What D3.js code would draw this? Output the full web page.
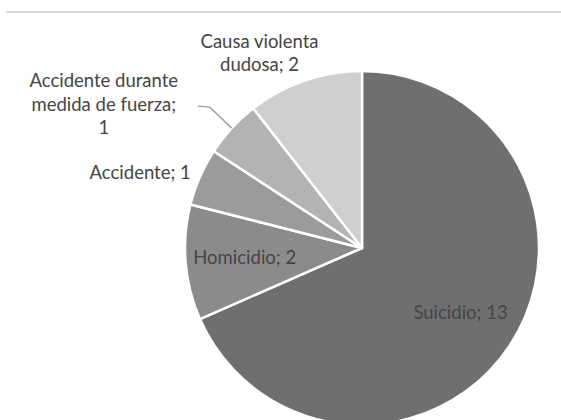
<!DOCTYPE html>
<html><head><meta charset="utf-8">
<script src="https://cdn.jsdelivr.net/npm/d3@7"></script>
<style>html,body{margin:0;padding:0;background:#fff;}svg{display:block;}</style>
</head><body>
<script>
const categories = ["Suicidio", "Homicidio", "Accidente", "Accidente durante medida de fuerza", "Causa violenta dudosa"];
const values = [13, 2, 1, 1, 2];
const colors = ["#6f6f6f", "#8b8b8b", "#9b9b9b", "#b3b3b3", "#cfcfcf"];
const labelLines = [["Suicidio; 13"], ["Homicidio; 2"], ["Accidente; 1"], ["Accidente durante", "medida de fuerza;", "1"], ["Causa violenta", "dudosa; 2"]];

const W = 561, H = 420;
const cx = 362, cy = 248, R = 177;
const svg = d3.select("body").append("svg").attr("width", W).attr("height", H);

svg.append("line").attr("x1", 6).attr("x2", W).attr("y1", 12).attr("y2", 12)
  .attr("stroke", "#d9d9d9").attr("stroke-width", 2);

const data = categories.map((c, i) => ({cat: c, value: values[i], color: colors[i], lines: labelLines[i]}));
const pie = d3.pie().sort(null).value(d => d.value);
const arcs = pie(data);
const arc = d3.arc().innerRadius(0).outerRadius(R);
const g = svg.append("g").attr("transform", `translate(${cx},${cy})`);

g.selectAll("path").data(arcs).join("path")
  .attr("d", arc).attr("fill", d => d.data.color)
  .attr("stroke", "#fff").attr("stroke-width", 2.5).attr("stroke-linejoin", "round");

const font = "Lato, 'Open Sans', sans-serif";
const fs = 18.5, lh = 23.5;
function pt(a, r) { return [Math.sin(a) * r, -Math.cos(a) * r]; }

arcs.forEach((d, i) => {
  const mid = (d.startAngle + d.endAngle) / 2;
  const n = d.data.lines.length;
  let x, y, anchor;
  if (i <= 1) {
    [x, y] = pt(mid, R * 0.665);
    anchor = "middle";
  } else if (i === 2) {
    [x, y] = pt(mid, R + 10);
    anchor = "end";
  } else if (i === 3) {
    const e = pt(mid, R);
    const b = [e[0] - 22, e[1] - 21];
    const f = [b[0] - 12, b[1] - 1];
    g.append("polyline").attr("points", [e, b, f].map(p => p.join(",")).join(" "))
      .attr("fill", "none").attr("stroke", "#a0a0a0").attr("stroke-width", 1.4);
    x = f[0] - 18; y = f[1] - 2;
    anchor = "end";
  } else {
    const e = pt(mid, R);
    x = e[0] - 45; y = e[1] - 4 - (n - 0.5) * lh;
    anchor = "middle";
  }
  const t = g.append("text").attr("font-family", font).attr("font-size", fs)
    .attr("fill", "#454545").attr("text-anchor", anchor);
  let y0 = (i === 4) ? y : y - (n - 1) * lh / 2;
  d.data.lines.forEach((ln, k) => {
    t.append("tspan").attr("x", x).attr("y", y0 + k * lh).attr("dy", "0.35em").text(ln);
  });
  if (i === 3) t.attr("text-anchor", "middle").selectAll("tspan").attr("x", x - 76);
});
</script>
</body></html>
